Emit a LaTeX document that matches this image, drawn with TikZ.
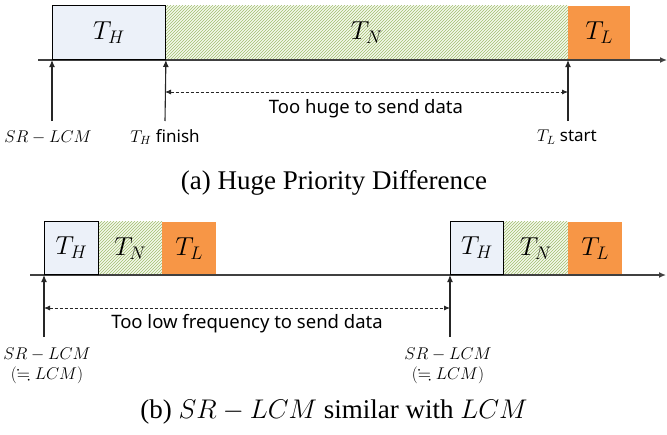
\RequirePackage{fix-cm}
\documentclass[tikz,border=0pt]{standalone}
\usepackage{amssymb}
\usepackage{fontspec}
\setmainfont{Liberation Serif}
\newfontfamily\lblfont{Noto Sans}
\usetikzlibrary{patterns,arrows.meta}
\definecolor{hfill}{RGB}{236,241,249}
\definecolor{lfill}{RGB}{247,150,70}
\definecolor{nline}{RGB}{160,190,110}
\definecolor{nback}{RGB}{244,248,236}
\definecolor{axcol}{RGB}{64,64,64}
\tikzset{
  boxfont/.style={font=\fontsize{26}{30}\selectfont},
  hbox/.style={draw=black, line width=0.9pt, fill=hfill, anchor=south west, inner sep=0pt, boxfont},
  nbox/.style={preaction={fill=nback}, pattern=north east lines, pattern color=nline, anchor=south west, inner sep=0pt},
  lbox/.style={fill=lfill, anchor=south west, inner sep=0pt},
  axisline/.style={draw=axcol, line width=1.3pt, -{Latex[length=7pt,width=6pt]}},
  uparrow/.style={draw=black!85, line width=1.1pt, -{Latex[length=7pt,width=6pt]}},
  dasharrow/.style={draw=black!85, line width=0.8pt, dash pattern=on 3pt off 2pt, {Latex[length=6pt,width=5pt]}-{Latex[length=6pt,width=5pt]}},
  lbl/.style={font=\lblfont\fontsize{17}{20}\selectfont, inner sep=0pt},
  biglbl/.style={font=\lblfont\fontsize{18.5}{22}\selectfont, inner sep=0pt},
  captext/.style={font=\fontsize{27}{32}\selectfont, inner sep=0pt}
}
\begin{document}
\begin{tikzpicture}[x=1pt,y=-1pt]
\useasboundingbox (0,0) rectangle (667,434);
% ---------- (a)
\coordinate (ax0) at (38,60);
\coordinate (ax1) at (667,60);
\node[nbox, minimum width=403pt, minimum height=54pt] (n1) at (165,60) {};
\node[lbox, minimum width=62pt, minimum height=54pt] (l1) at (568,60) {};
\draw[axisline] (ax0) -- (ax1);
\node[hbox, minimum width=113pt, minimum height=54pt] (h1) at (52,60) {$T_H$};
\node[boxfont] (n1t) at (n1.center) {$T_N$};
\node[boxfont] (l1t) at (l1.center) {$T_L$};
\coordinate (u1) at (52,121);
\coordinate (u2) at (165,121);
\coordinate (u3) at (568,121);
\draw[uparrow] (u1) -- (h1.south west);
\draw[uparrow] (u2) -- (h1.south east);
\draw[uparrow] (u3) -- (l1.south west);
\coordinate (d1) at (165,92);
\coordinate (d2) at (568,92);
\draw[dasharrow] (d1) -- (d2);
\node[biglbl] (t1) at (366,109) {Too huge to send data};
\node[lbl] (s1) at (48,137) {$SR-LCM$};
\node[lbl] (s2) at (165,137) {$T_H$ finish};
\node[lbl] (s3) at (567,137) {$T_L$ start};
\node[captext] (capa) at (334,183) {(a) Huge Priority Difference};
% ---------- (b)
\coordinate (bx0) at (30,275);
\coordinate (bx1) at (666,275);
\node[nbox, minimum width=64pt, minimum height=53pt] (bn1) at (98,275) {};
\node[lbox, minimum width=54pt, minimum height=53pt] (bl1) at (162,275) {};
\node[nbox, minimum width=65pt, minimum height=53pt] (bn2) at (503,275) {};
\node[lbox, minimum width=54pt, minimum height=53pt] (bl2) at (568,275) {};
\draw[axisline] (bx0) -- (bx1);
\node[hbox, minimum width=54pt, minimum height=53pt] (bh1) at (44,275) {$T_H$};
\node[hbox, minimum width=53pt, minimum height=53pt] (bh2) at (450,275) {$T_H$};
\node[boxfont] (bn1t) at (bn1.center) {$T_N$};
\node[boxfont] (bl1t) at (bl1.center) {$T_L$};
\node[boxfont] (bn2t) at (bn2.center) {$T_N$};
\node[boxfont] (bl2t) at (bl2.center) {$T_L$};
\coordinate (bu1) at (44,337);
\coordinate (bu2) at (450,337);
\draw[uparrow] (bu1) -- (bh1.south west);
\draw[uparrow] (bu2) -- (bh2.south west);
\coordinate (bd1) at (44,308);
\coordinate (bd2) at (450,308);
\draw[dasharrow] (bd1) -- (bd2);
\node[biglbl] (bt1) at (247,324) {Too low frequency to send data};
\node[lbl] (bs1) at (47,354) {$SR-LCM$};
\node[lbl] (bs1b) at (47,375) {$(\fallingdotseq LCM)$};
\node[lbl] (bs2) at (448,354) {$SR-LCM$};
\node[lbl] (bs2b) at (448,375) {$(\fallingdotseq LCM)$};
\node[captext] (capb) at (334,412) {(b) $SR-LCM$ similar with $LCM$};
\end{tikzpicture}
\end{document}
